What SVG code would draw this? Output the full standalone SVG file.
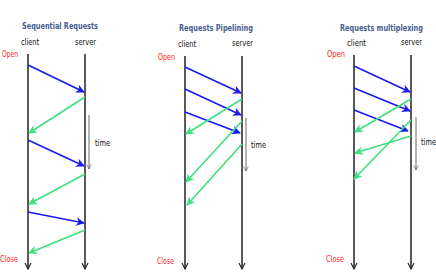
<svg xmlns="http://www.w3.org/2000/svg" width="436" height="273" viewBox="0 0 436 273">
<style>
text{font-family:"DejaVu Sans Condensed","DejaVu Sans",sans-serif}
.title{font-weight:bold;font-size:9.5px;fill:#4a5d8f}
.lbl{font-size:9px;fill:#111}
.red{font-size:9px;fill:#ff2020}
.life{stroke:#222;stroke-width:1.5;fill:none;marker-end:url(#vhead)}
.time{stroke:#444;stroke-width:0.8;fill:none;marker-end:url(#thead)}
.req{stroke:#1a1aee;stroke-width:1.6;fill:none;marker-end:url(#bhead)}
.resp{stroke:#3ee07e;stroke-width:1.6;fill:none;marker-end:url(#ghead)}
</style>
<defs>
<marker id="bhead" viewBox="0 0 10 10" refX="9" refY="5" markerWidth="5.5" markerHeight="5.5" orient="auto" markerUnits="strokeWidth">
<path d="M0,0 L10,5 L0,10 L3,5 z" fill="#1a1aee"/>
</marker>
<marker id="ghead" viewBox="0 0 10 10" refX="9" refY="5" markerWidth="5.5" markerHeight="5.5" orient="auto" markerUnits="strokeWidth">
<path d="M0,0 L10,5 L0,10 L3,5 z" fill="#3ee07e"/>
</marker>
<marker id="vhead" viewBox="0 0 10 10" refX="9" refY="5" markerWidth="5" markerHeight="5" orient="auto" markerUnits="strokeWidth">
<path d="M1,1 L9,5 L1,9" fill="none" stroke="#222" stroke-width="1.5"/>
</marker>
<marker id="thead" viewBox="0 0 10 10" refX="9" refY="5" markerWidth="7" markerHeight="7" orient="auto" markerUnits="strokeWidth">
<path d="M1,1 L9,5 L1,9" fill="none" stroke="#444" stroke-width="1"/>
</marker>
</defs>
<rect width="436" height="273" fill="#fff"/>

<g id="panel-sequential">
<text class="title" x="22" y="28.5" textLength="76" lengthAdjust="spacingAndGlyphs">Sequential Requests</text>
<text class="lbl" x="21" y="44.5" textLength="18" lengthAdjust="spacingAndGlyphs">client</text>
<text class="lbl" x="75" y="44.5" textLength="21" lengthAdjust="spacingAndGlyphs">server</text>
<text class="red" x="2" y="57" textLength="16" lengthAdjust="spacingAndGlyphs">Open</text>
<text class="red" x="0" y="261.5" textLength="18" lengthAdjust="spacingAndGlyphs">Close</text>
<text class="lbl" x="95" y="145.5" textLength="15" lengthAdjust="spacingAndGlyphs">time</text>
</g>
<g id="panel-pipelining">
<text class="title" x="179" y="31" textLength="74" lengthAdjust="spacingAndGlyphs">Requests Pipelining</text>
<text class="lbl" x="178" y="46.5" textLength="18" lengthAdjust="spacingAndGlyphs">client</text>
<text class="lbl" x="232" y="45.5" textLength="21" lengthAdjust="spacingAndGlyphs">server</text>
<text class="red" x="158" y="60" textLength="17" lengthAdjust="spacingAndGlyphs">Open</text>
<text class="red" x="157" y="263.5" textLength="17" lengthAdjust="spacingAndGlyphs">Close</text>
<text class="lbl" x="251" y="148" textLength="15" lengthAdjust="spacingAndGlyphs">time</text>
</g>
<g id="panel-multiplexing">
<text class="title" x="340" y="31" textLength="83" lengthAdjust="spacingAndGlyphs">Requests multiplexing</text>
<text class="lbl" x="347" y="45.5" textLength="19" lengthAdjust="spacingAndGlyphs">client</text>
<text class="lbl" x="401" y="45" textLength="21" lengthAdjust="spacingAndGlyphs">server</text>
<text class="red" x="327" y="57" textLength="18" lengthAdjust="spacingAndGlyphs">Open</text>
<text class="red" x="326" y="261.5" textLength="18" lengthAdjust="spacingAndGlyphs">Close</text>
<text class="lbl" x="421" y="145" textLength="15" lengthAdjust="spacingAndGlyphs">time</text>
</g>

<g id="connectors">
<!-- lifelines -->
<line class="life" x1="28" y1="54" x2="28" y2="269"/>
<line class="life" x1="85" y1="54" x2="85" y2="269"/>
<line class="life" x1="185" y1="56" x2="185" y2="269"/>
<line class="life" x1="242" y1="56" x2="242" y2="269"/>
<line class="life" x1="354" y1="55" x2="354" y2="269"/>
<line class="life" x1="411" y1="55" x2="411" y2="269"/>
<!-- time arrows -->
<line class="time" x1="89" y1="115" x2="89" y2="169"/>
<line class="time" x1="246" y1="118" x2="246" y2="171"/>
<line class="time" x1="416" y1="117" x2="416" y2="170"/>
<!-- sequential -->
<line class="req" x1="28" y1="65" x2="84" y2="92"/>
<line class="resp" x1="85" y1="97" x2="29" y2="133"/>
<line class="req" x1="28" y1="140" x2="84" y2="166"/>
<line class="resp" x1="85" y1="174" x2="29" y2="204"/>
<line class="req" x1="28" y1="212" x2="84" y2="223"/>
<line class="resp" x1="85" y1="230" x2="29" y2="253"/>
<!-- pipelining -->
<line class="req" x1="185" y1="67" x2="241" y2="93"/>
<line class="req" x1="185" y1="89" x2="241" y2="115"/>
<line class="req" x1="185" y1="112" x2="240" y2="133"/>
<line class="resp" x1="242" y1="99" x2="186" y2="134"/>
<line class="resp" x1="242" y1="121" x2="186" y2="182"/>
<line class="resp" x1="242" y1="144" x2="187" y2="205"/>
<!-- multiplexing -->
<line class="req" x1="354" y1="66" x2="410" y2="92"/>
<line class="req" x1="354" y1="88" x2="410" y2="111"/>
<line class="req" x1="354" y1="110" x2="408" y2="131"/>
<line class="resp" x1="411" y1="99" x2="355" y2="132"/>
<line class="resp" x1="411" y1="120" x2="354" y2="179"/>
<line class="resp" x1="411" y1="136" x2="355" y2="153"/>
</g>
</svg>
